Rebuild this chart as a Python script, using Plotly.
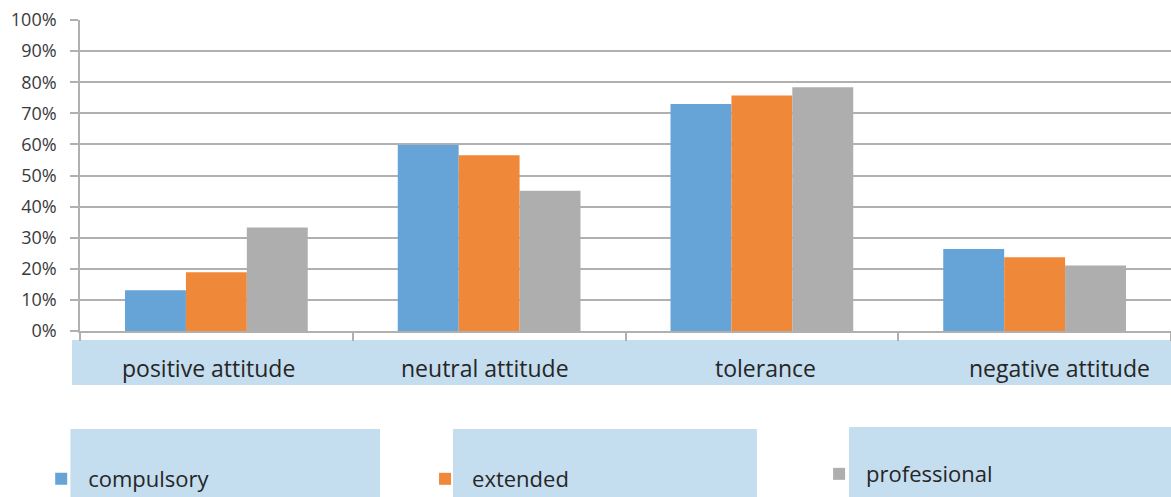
import plotly.graph_objects as go

# Share of respondents by attitude, for each school type
categories = ["positive attitude", "neutral attitude", "tolerance", "negative attitude"]
compulsory = [0.131, 0.598, 0.730, 0.264]
extended = [0.189, 0.565, 0.757, 0.237]
professional = [0.333, 0.451, 0.784, 0.211]
series_names = ["compulsory", "extended", "professional"]
y_ticks = [0, 0.1, 0.2, 0.3, 0.4, 0.5, 0.6, 0.7, 0.8, 0.9, 1.0]

colors = ["#66a3d7", "#f0883a", "#adaead"]
panel_blue = "#c4ddef"
grid = "#b0b0b0"
text_dark = "#262626"
font_family = "Open Sans"

# each series gets its own legend box so the entries can be spaced freely
legend_ids = ["legend", "legend2", "legend3"]
legend_x = [0.0292, 0.3570, 0.6935]      # container fraction of the width
legend_y = [0.0362, 0.0362, 0.0462]      # container fraction of the height

fig = go.Figure()
for name, vals, col, lg in zip(series_names, [compulsory, extended, professional], colors, legend_ids):
    fig.add_trace(go.Bar(
        x=categories, y=vals, name=name, legend=lg,
        marker=dict(color=col, line=dict(width=0)),
    ))

# light-blue panels behind the category labels and the legend entries
shapes = [
    dict(type="rect", xref="paper", yref="paper", layer="below",
         x0=-0.0073, x1=1.0, y0=-0.0290, y1=-0.1736,
         fillcolor=panel_blue, line=dict(width=0)),
    dict(type="rect", xref="paper", yref="paper", layer="below",
         x0=-0.0088, x1=0.2750, y0=-0.3151, y1=-0.55,
         fillcolor=panel_blue, line=dict(width=0)),
    dict(type="rect", xref="paper", yref="paper", layer="below",
         x0=0.3419, x1=0.6205, y0=-0.3151, y1=-0.55,
         fillcolor=panel_blue, line=dict(width=0)),
    dict(type="rect", xref="paper", yref="paper", layer="below",
         x0=0.7049, x1=1.0, y0=-0.3087, y1=-0.55,
         fillcolor=panel_blue, line=dict(width=0)),
]

# category labels sitting on the panel
label_shift = [-8, -4, 4, 25]
annotations = [
    dict(x=c, y=-0.1184, xref="x", yref="paper", text=c, showarrow=False,
         xshift=s, xanchor="center", yanchor="middle",
         font=dict(family=font_family, size=23, color=text_dark))
    for c, s in zip(categories, label_shift)
]

legend_style = dict(
    orientation="h", xanchor="left", yanchor="middle",
    xref="container", yref="container",
    bgcolor="rgba(0,0,0,0)", borderwidth=0,
    font=dict(family=font_family, size=22, color=text_dark),
    itemwidth=44,
)

fig.update_layout(
    width=1171, height=497,
    margin=dict(l=80, r=0, t=20, b=166),
    paper_bgcolor="white", plot_bgcolor="white",
    barmode="group", bargap=0.33, bargroupgap=0,
    font=dict(family=font_family, color=text_dark),
    shapes=shapes,
    annotations=annotations,
    showlegend=True,
    legend=dict(x=legend_x[0], y=legend_y[0], **legend_style),
    legend2=dict(x=legend_x[1], y=legend_y[1], **legend_style),
    legend3=dict(x=legend_x[2], y=legend_y[2], **legend_style),
    xaxis=dict(
        type="category", showticklabels=False,
        showline=True, linecolor=grid, linewidth=1.6,
        ticks="outside", tickson="boundaries", ticklen=8,
        tickcolor=grid, tickwidth=1.6,
        showgrid=False, zeroline=False,
    ),
    yaxis=dict(
        range=[0, 1.0], tickvals=y_ticks, tickformat=".0%",
        showgrid=True, gridcolor=grid, gridwidth=1.6,
        showline=True, linecolor=grid, linewidth=1.6,
        ticks="outside", ticklen=8, tickcolor=grid, tickwidth=1.6,
        tickfont=dict(family=font_family, size=18, color="#3a3a3a"),
        ticklabelstandoff=10,
        zeroline=False,
    ),
)

fig.write_html("out.html")
